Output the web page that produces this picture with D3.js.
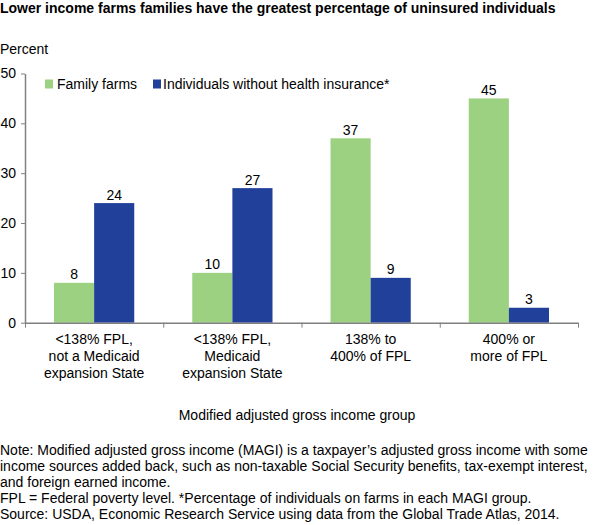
<!DOCTYPE html>
<html>
<head>
<meta charset="utf-8">
<script src="https://cdn.jsdelivr.net/npm/d3@7"></script>
<style>
  html, body { margin: 0; padding: 0; background: #fff; }
  svg { display: block; font-family: "Liberation Sans", Arial, Helvetica, sans-serif; }
</style>
</head>
<body>
<svg id="chart" width="593" height="525"></svg>
<script>
// ---- Data ----
const categories = [
  ["<138% FPL,", "not a Medicaid", "expansion State"],
  ["<138% FPL,", "Medicaid", "expansion State"],
  ["138% to", "400% of FPL"],
  ["400% or", "more of FPL"]
];
const seriesNames = ["Family farms", "Individuals without health insurance*"];
const familyFarms = [8, 10, 37, 45];
const uninsured = [24, 27, 9, 3];
const yTicks = [0, 10, 20, 30, 40, 50];
const titleText = "Lower income farms families have the greatest percentage of uninsured individuals";
const yAxisLabel = "Percent";
const xAxisLabel = "Modified adjusted gross income group";
const notes = [
  "Note: Modified adjusted gross income (MAGI) is a taxpayer\u2019s adjusted gross income with some",
  "income sources added back, such as non-taxable Social Security benefits, tax-exempt interest,",
  "and foreign earned income.",
  "FPL = Federal poverty level. *Percentage of individuals on farms in each MAGI group.",
  "Source: USDA, Economic Research Service using data from the Global Trade Atlas, 2014."
];

// ---- Layout ----
const colors = ["#9dd182", "#21409a"];
const axisColor = "#808080";
const fs = 14;
const svg = d3.select("#chart");
const plotLeft = 25, plotRight = 578, plotTop = 73.5, plotBottom = 322.7;

const x0 = d3.scaleBand().domain(d3.range(categories.length)).range([plotLeft, plotRight]).padding(0);
const x1 = d3.scaleBand().domain([0, 1]).range([29, x0.bandwidth() - 29]).padding(0);
const y = d3.scaleLinear().domain([0, 50]).range([plotBottom, plotTop]);

// Title
svg.append("text").attr("x", 0).attr("y", 13)
  .attr("font-size", fs).attr("font-weight", "bold").attr("fill", "#000")
  .text(titleText);

svg.append("text").attr("x", 0).attr("y", 54)
  .attr("font-size", fs).attr("fill", "#000").text(yAxisLabel);

// Bars
const series = [familyFarms, uninsured];
const groups = svg.append("g").selectAll("g")
  .data(categories.map((c, i) => i)).join("g")
  .attr("transform", i => `translate(${x0(i)},0)`);

series.forEach((vals, s) => {
  groups.append("rect")
    .attr("x", x1(s))
    .attr("width", x1.bandwidth())
    .attr("y", i => y(vals[i]))
    .attr("height", i => y(0) - y(vals[i]))
    .attr("fill", colors[s]);
  groups.append("text")
    .attr("x", x1(s) + x1.bandwidth() / 2)
    .attr("y", i => y(vals[i]) - 3.5)
    .attr("text-anchor", "middle")
    .attr("font-size", fs).attr("fill", "#000")
    .text(i => vals[i]);
});

// Y axis
const yAxis = svg.append("g").attr("transform", `translate(${plotLeft},0)`)
  .call(d3.axisLeft(y).tickValues(yTicks).tickSize(4).tickPadding(5).tickSizeOuter(0));
yAxis.select(".domain").attr("stroke", axisColor).attr("stroke-width", 1.5);
yAxis.selectAll(".tick line").attr("stroke", axisColor).attr("stroke-width", 1);
yAxis.selectAll(".tick text").attr("font-size", fs).attr("fill", "#000")
  .attr("font-family", "Liberation Sans, Arial, sans-serif");

// X axis (boundary ticks)
const boundaries = d3.range(categories.length + 1).map(i => plotLeft + i * x0.bandwidth());
const xLin = d3.scaleLinear().domain([plotLeft, plotRight]).range([plotLeft, plotRight]);
const xAxis = svg.append("g").attr("transform", `translate(0,${plotBottom})`)
  .call(d3.axisBottom(xLin).tickValues(boundaries).tickSize(5).tickFormat("").tickSizeOuter(0));
xAxis.select(".domain").attr("stroke", axisColor).attr("stroke-width", 1.5);
xAxis.selectAll(".tick line").attr("stroke", axisColor).attr("stroke-width", 1);

// Category labels
categories.forEach((lines, i) => {
  const cx = x0(i) + x0.bandwidth() / 2;
  const t = svg.append("text")
    .attr("text-anchor", "middle")
    .attr("font-size", fs).attr("fill", "#000");
  lines.forEach((ln, j) => {
    t.append("tspan").attr("x", cx).attr("y", 344.3 + j * 16.6).text(ln);
  });
});

// X axis title
svg.append("text").attr("x", 297).attr("y", 419.5)
  .attr("text-anchor", "middle").attr("font-size", fs).attr("fill", "#000")
  .text(xAxisLabel);

// Legend
const legendPos = [{x: 45, tx: 57}, {x: 153, tx: 163}];
seriesNames.forEach((name, s) => {
  svg.append("rect").attr("x", legendPos[s].x).attr("y", 79.5)
    .attr("width", 8).attr("height", 9).attr("fill", colors[s]);
  svg.append("text").attr("x", legendPos[s].tx).attr("y", 89)
    .attr("font-size", fs).attr("fill", "#000").text(name);
});

// Notes
notes.forEach((ln, i) => {
  svg.append("text").attr("x", 0).attr("y", 454.5 + i * 16)
    .attr("font-size", fs).attr("fill", "#000").text(ln);
});
</script>
</body>
</html>
